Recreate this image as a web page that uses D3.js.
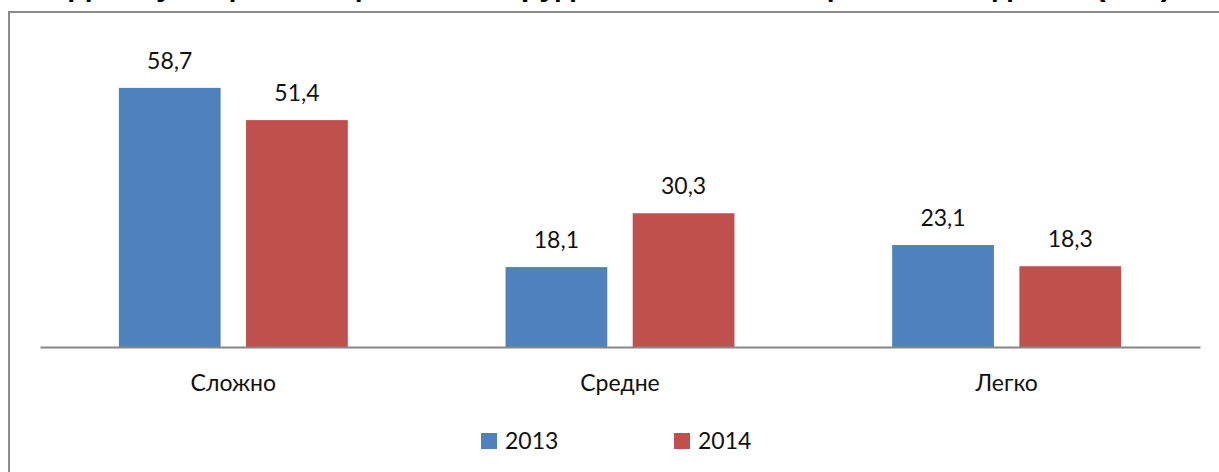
<!DOCTYPE html>
<html>
<head>
<meta charset="utf-8">
<script src="https://cdn.jsdelivr.net/npm/d3@7"></script>
<style>
  body { margin: 0; background: #fff; }
  svg { display: block; }
</style>
</head>
<body>
<svg id="chart"></svg>
<script>
// chart data
const categories = ["Сложно", "Средне", "Легко"];
const seriesNames = ["2013", "2014"];
const values2013 = [58.7, 18.1, 23.1];
const values2014 = [51.4, 30.3, 18.3];
const colors = ["#4F81BD", "#C0504D"];

const width = 1219, height = 472;
const svg = d3.select("#chart")
    .attr("width", width)
    .attr("height", height);

const font = "Lato, 'Noto Sans', sans-serif";

// title, cut off by the top edge in the original (only descenders show)
svg.append("text")
    .attr("x", 620)
    .attr("y", -5)
    .attr("text-anchor", "middle")
    .attr("font-family", "'Liberation Sans', Arial, sans-serif")
    .attr("font-weight", "bold")
    .attr("font-size", "31px")
    .text("Доля учащихся, оценивших трудность экзаменационных заданий (в %)");

// chart frame
svg.append("rect")
    .attr("x", 9)
    .attr("y", 12)
    .attr("width", 1240)
    .attr("height", 480)
    .attr("fill", "none")
    .attr("stroke", "#8c8c8c")
    .attr("stroke-width", 2);

const x0 = d3.scaleBand()
    .domain(categories)
    .range([40, 1200]);

const x1 = d3.scaleBand()
    .domain(seriesNames)
    .range([0, x0.bandwidth()])
    .paddingInner(0.2)
    .paddingOuter(0.62);

const y = d3.scaleLinear()
    .domain([0, 70])
    .range([347, 38]);

const rows = categories.map((c, i) => ({
    cat: c,
    vals: [
        { key: seriesNames[0], value: values2013[i] },
        { key: seriesNames[1], value: values2014[i] }
    ]
}));

const groups = svg.append("g").selectAll("g")
    .data(rows)
    .join("g")
    .attr("transform", d => "translate(" + x0(d.cat) + ",0)");

groups.selectAll("rect")
    .data(d => d.vals)
    .join("rect")
    .attr("x", d => x1(d.key))
    .attr("y", d => y(d.value))
    .attr("width", x1.bandwidth())
    .attr("height", d => y(0) - y(d.value))
    .attr("fill", (d, i) => colors[i]);

groups.selectAll("text.val")
    .data(d => d.vals)
    .join("text")
    .attr("class", "val")
    .attr("x", d => x1(d.key) + x1.bandwidth() / 2)
    .attr("y", d => y(d.value) - 19)
    .attr("text-anchor", "middle")
    .attr("font-family", font)
    .attr("font-size", "23px")
    .attr("fill", "#111")
    .text(d => d3.format(".1f")(d.value).replace(".", ","));

// x axis
const xAxis = svg.append("g")
    .attr("transform", "translate(0," + y(0) + ")")
    .call(d3.axisBottom(x0).tickSize(0).tickPadding(28));
xAxis.select(".domain")
    .attr("stroke", "#868686")
    .attr("stroke-width", 2);
xAxis.selectAll("text")
    .attr("font-family", font)
    .attr("font-size", "23px")
    .attr("fill", "#111");

// legend
const legend = svg.append("g").selectAll("g")
    .data(seriesNames)
    .join("g")
    .attr("transform", (d, i) => "translate(" + (481 + i * 193) + ",433)");
legend.append("rect")
    .attr("width", 16)
    .attr("height", 16)
    .attr("fill", (d, i) => colors[i]);
legend.append("text")
    .attr("x", 24)
    .attr("y", 16)
    .attr("font-family", font)
    .attr("font-size", "23px")
    .attr("fill", "#111")
    .text(d => d);
</script>
</body>
</html>
